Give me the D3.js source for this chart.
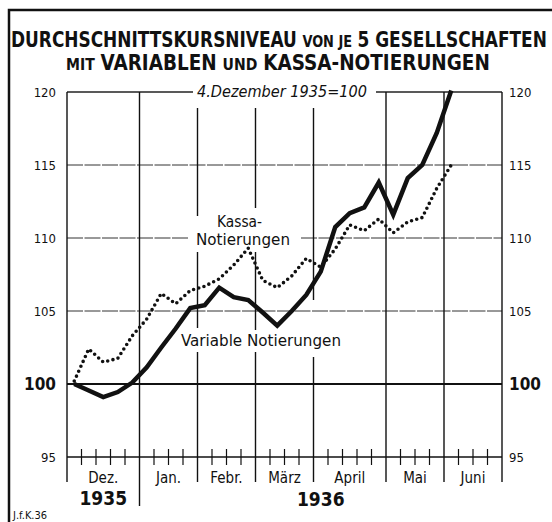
<!DOCTYPE html>
<html>
<head>
<meta charset="utf-8">
<script src="https://cdn.jsdelivr.net/npm/d3@7"></script>
<style>
  html, body { margin: 0; padding: 0; background: #fff; }
  svg { display: block; }
  text { font-family: "DejaVu Sans Condensed", "DejaVu Sans", sans-serif; fill: #111; }
</style>
</head>
<body>
<svg id="chart" width="552" height="522"></svg>
<script>
// weekly values, first point = 4. Dezember 1935 (=100)
const variableValues = [100.0, 99.55, 99.1, 99.45, 100.1, 101.15, 102.5, 103.8, 105.2, 105.4,
    106.6, 105.95, 105.75, 104.9, 104.0, 105.0, 106.1, 107.7, 110.75, 111.7,
    112.1, 113.8, 111.6, 114.1, 115.0, 117.2, 120.1];
const kassaValues = [100.2, 102.4, 101.5, 101.75, 103.3, 104.45, 106.2, 105.5, 106.4, 106.7,
    107.2, 108.15, 109.3, 107.1, 106.6, 107.4, 108.6, 108.0, 109.25, 110.9,
    110.5, 111.3, 110.35, 111.1, 111.4, 113.4, 115.0];

const months = ["Dez.", "Jan.", "Febr.", "März", "April", "Mai", "Juni"];
const monthWeeks = [5, 4, 4, 4, 5, 4, 4];
const yearLabels = ["1935", "1936"];
const yTicks = [95, 100, 105, 110, 115, 120];

const svg = d3.select("#chart");

const x = d3.scaleLinear().domain([0, d3.sum(monthWeeks)]).range([67, 502]);
const y = d3.scaleLinear().domain([95, 120]).range([457, 92]);

// month boundaries in weeks
const bounds = [0];
monthWeeks.forEach((w) => bounds.push(bounds[bounds.length - 1] + w));

// outer frame (left + top)
svg.append("path")
    .attr("d", "M9,522 L9,10 L552,10")
    .attr("fill", "none")
    .attr("stroke", "#111")
    .attr("stroke-width", 2.5);

// title: pieces placed one after the other, then stretched to the wanted width
function titleLine(parts, x0, y0, width) {
    const g = svg.append("g").style("font-weight", "bold");
    let pos = 0;
    parts.forEach((p) => {
        const t = g.append("text")
            .attr("x", pos).attr("y", 0)
            .style("font-size", p[1] + "px")
            .text(p[0]);
        pos += t.node().getComputedTextLength() + p[2];
    });
    const sx = width / pos;
    g.attr("transform", `translate(${x0},${y0}) scale(${sx},1)`);
}
titleLine([["DURCHSCHNITTSKURSNIVEAU", 21, 6], ["VON JE", 16, 6], ["5 GESELLSCHAFTEN", 21, 0]], 11, 47, 536);
titleLine([["MIT", 16, 6], ["VARIABLEN", 21, 6], ["UND", 16, 6], ["KASSA-NOTIERUNGEN", 21, 0]], 66, 70, 424);

// horizontal grid
const grid = svg.append("g");
yTicks.filter((v) => v > 95 && v < 120).forEach((v) => {
    let segs = [[x(0), x(30)]];
    if (v === 110) segs = [[x(0), 189], [301, x(30)]];
    segs.forEach((s) => {
        grid.append("line")
            .attr("x1", s[0]).attr("x2", s[1])
            .attr("y1", y(v)).attr("y2", y(v))
            .attr("stroke", v === 100 ? "#111" : "#333")
            .attr("stroke-width", v === 100 ? 2 : 1)
            .attr("stroke-dasharray", v === 100 ? null : "16,1.5");
    });
});
// top line with gap for the base label
[[x(0), 193], [376, x(30)]].forEach((s) => {
    grid.append("line")
        .attr("x1", s[0]).attr("x2", s[1])
        .attr("y1", y(120)).attr("y2", y(120))
        .attr("stroke", "#222").attr("stroke-width", 1.3);
});

// vertical month lines (with gaps where the labels sit)
bounds.forEach((b, i) => {
    const xx = x(b);
    const top = (i === 2 || i === 3 || i === 4) ? 108 : y(120);
    const bottom = i === 1 ? 506 : 482;
    let segs = [[top, bottom]];
    if (i === 2) segs = [[top, 216], [252, 328], [352, bottom]];
    if (i === 3) segs = [[top, 208], [252, 330], [352, bottom]];
    if (i === 4) segs = [[top, 300], [357, bottom]];
    segs.forEach((s) => {
        grid.append("line")
            .attr("x1", xx).attr("x2", xx)
            .attr("y1", s[0]).attr("y2", s[1])
            .attr("stroke", "#111").attr("stroke-width", 1.4);
    });
});

// baseline (95) with week ticks
grid.append("line")
    .attr("x1", x(0)).attr("x2", x(30))
    .attr("y1", y(95)).attr("y2", y(95))
    .attr("stroke", "#111").attr("stroke-width", 1.3);
d3.range(1, 30).filter((w) => !bounds.includes(w)).forEach((w) => {
    grid.append("line")
        .attr("x1", x(w)).attr("x2", x(w))
        .attr("y1", 449).attr("y2", 465)
        .attr("stroke", "#111").attr("stroke-width", 1.2);
});

// y labels both sides
yTicks.forEach((v) => {
    const bold = v === 100;
    svg.append("text")
        .attr("x", 56).attr("y", y(v)).attr("dy", "0.36em")
        .attr("text-anchor", "end")
        .style("font-size", bold ? "17px" : "13px")
        .style("font-weight", bold ? "bold" : "normal")
        .text(v);
    svg.append("text")
        .attr("x", 509).attr("y", y(v)).attr("dy", "0.36em")
        .style("font-size", bold ? "17px" : "13px")
        .style("font-weight", bold ? "bold" : "normal")
        .text(v);
});

// month labels
months.forEach((m, i) => {
    svg.append("text")
        .attr("x", x((bounds[i] + bounds[i + 1]) / 2))
        .attr("y", 483)
        .attr("text-anchor", "middle")
        .style("font-size", "15px")
        .text(m);
});
// years
svg.append("text")
    .attr("x", x((bounds[0] + bounds[1]) / 2)).attr("y", 505)
    .attr("text-anchor", "middle")
    .style("font-size", "19px").style("font-weight", "bold")
    .text(yearLabels[0]);
svg.append("text")
    .attr("x", x((bounds[1] + bounds[7]) / 2)).attr("y", 506)
    .attr("text-anchor", "middle")
    .style("font-size", "19px").style("font-weight", "bold")
    .text(yearLabels[1]);

// base label
svg.append("text")
    .attr("x", 197).attr("y", 97)
    .attr("textLength", 170).attr("lengthAdjust", "spacingAndGlyphs")
    .style("font-size", "15px").style("font-style", "italic")
    .text("4.Dezember 1935=100");

// lines
const line = d3.line()
    .x((d, i) => x(i + 0.5))
    .y((d) => y(d));

svg.append("path")
    .datum(kassaValues)
    .attr("d", line)
    .attr("fill", "none")
    .attr("stroke", "#111")
    .attr("stroke-width", 3.6)
    .attr("stroke-linecap", "round")
    .attr("stroke-dasharray", "0,5.4");

svg.append("path")
    .datum(variableValues)
    .attr("d", line)
    .attr("fill", "none")
    .attr("stroke", "#111")
    .attr("stroke-width", 4.5)
    .attr("stroke-linejoin", "miter");

// series labels
svg.append("text").attr("x", 217).attr("y", 227)
    .attr("textLength", 45).attr("lengthAdjust", "spacingAndGlyphs")
    .style("font-size", "15px").text("Kassa-");
svg.append("text").attr("x", 196).attr("y", 245)
    .attr("textLength", 94).attr("lengthAdjust", "spacingAndGlyphs")
    .style("font-size", "15px").text("Notierungen");
svg.append("text").attr("x", 181).attr("y", 346)
    .attr("textLength", 160).attr("lengthAdjust", "spacingAndGlyphs")
    .style("font-size", "15px").text("Variable Notierungen");

// signature
svg.append("text").attr("x", 13).attr("y", 519)
    .style("font-size", "11px").text("J.f.K.36");
</script>
</body>
</html>
